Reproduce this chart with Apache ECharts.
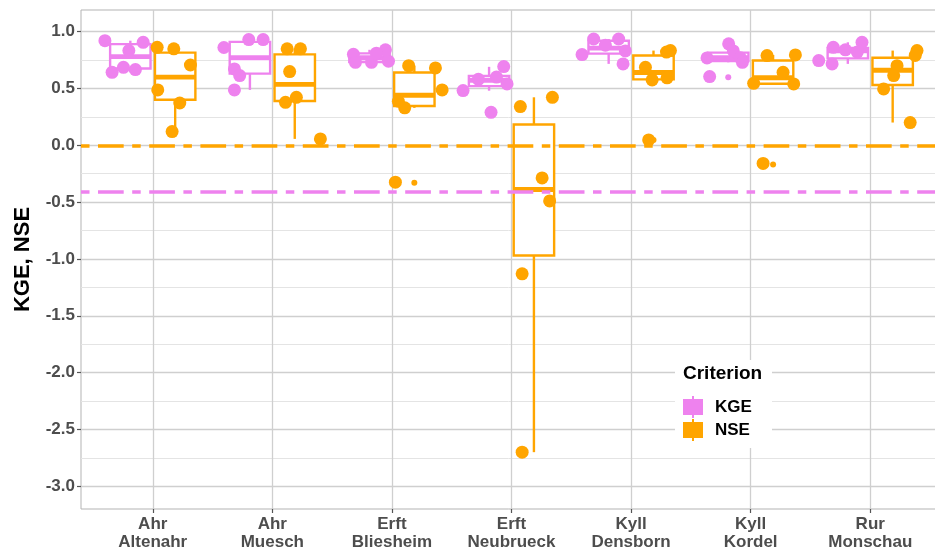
<!DOCTYPE html>
<html>
<head>
<meta charset="UTF-8">
<title>KGE, NSE</title>
<style>
html, body { margin: 0; padding: 0; background: #fff; }
#main { width: 935px; height: 557px; }
</style>
</head>
<body>
<div id="main"></div>
<script src="https://cdn.jsdelivr.net/npm/echarts@6/dist/echarts.min.js"></script>
<script>
var sites = ['Ahr\nAltenahr', 'Ahr\nMuesch', 'Erft\nBliesheim', 'Erft\nNeubrueck', 'Kyll\nDensborn', 'Kyll\nKordel', 'Rur\nMonschau'];
var yTicks = [-3, -2.5, -2, -1.5, -1, -0.5, 0, 0.5, 1];
var yMinor = [-2.75, -2.25, -1.75, -1.25, -0.75, -0.25, 0.25, 0.75];
var xTicks = [0, 1, 2, 3, 4, 5, 6];

// boxplot stats: [lower whisker, q1, median, q3, upper whisker]
var kgeBox = [
	[0.642, 0.675, 0.78, 0.89, 0.92],
	[0.487, 0.63, 0.77, 0.91, 0.93],
	[0.73, 0.733, 0.77, 0.808, 0.84],
	[0.48, 0.52, 0.57, 0.61, 0.69],
	[0.716, 0.806, 0.855, 0.92, 0.935],
	[0.73, 0.74, 0.77, 0.815, 0.892],
	[0.716, 0.764, 0.83, 0.857, 0.906]
];
var nseBox = [
	[0.12, 0.40, 0.60, 0.815, 0.862],
	[0.056, 0.39, 0.535, 0.80, 0.848],
	[0.329, 0.345, 0.44, 0.64, 0.70],
	[-2.70, -0.97, -0.389, 0.183, 0.422],
	[0.575, 0.58, 0.64, 0.79, 0.833],
	[0.54, 0.541, 0.594, 0.746, 0.795],
	[0.20, 0.53, 0.66, 0.77, 0.833]
];
// outliers: [site index, value]
var kgeOutliers = [[3, 0.29], [5, 0.598]];
var nseOutliers = [[2, -0.33], [4, 0.047], [5, -0.17]];

// single values per site and their horizontal jitter (category units)
var kgeValues = [
	[0.92, 0.906, 0.833, 0.642, 0.686, 0.666],
	[0.86, 0.93, 0.93, 0.672, 0.613, 0.487],
	[0.80, 0.73, 0.73, 0.84, 0.74, 0.81],
	[0.481, 0.29, 0.692, 0.54, 0.60, 0.58],
	[0.798, 0.935, 0.935, 0.716, 0.88, 0.83],
	[0.768, 0.892, 0.83, 0.77, 0.73, 0.604],
	[0.745, 0.716, 0.862, 0.84, 0.906, 0.82]
];
var kgeJitter = [
	[-0.40, -0.08, -0.20, -0.34, -0.245, -0.145],
	[-0.405, -0.197, -0.077, -0.317, -0.273, -0.317],
	[-0.322, -0.305, -0.171, -0.054, -0.029, -0.13],
	[-0.405, -0.171, -0.065, -0.037, -0.126, -0.277],
	[-0.41, -0.313, -0.104, -0.067, -0.215, -0.048],
	[-0.365, -0.184, -0.145, -0.086, -0.069, -0.343],
	[-0.431, -0.319, -0.309, -0.208, -0.069, -0.108]
];
var nseValues = [
	[0.862, 0.848, 0.706, 0.487, 0.372, 0.12],
	[0.848, 0.848, 0.648, 0.378, 0.422, 0.056],
	[0.70, 0.68, 0.487, 0.329, 0.387, -0.325],
	[0.34, 0.422, -0.287, -0.49, -1.131, -2.70],
	[0.833, 0.82, 0.686, 0.575, 0.593, 0.047],
	[0.789, 0.795, 0.642, 0.545, 0.54, -0.16],
	[0.496, 0.70, 0.613, 0.833, 0.79, 0.20]
];
var nseJitter = [
	[0.037, 0.176, 0.315, 0.042, 0.226, 0.162],
	[0.124, 0.235, 0.145, 0.11, 0.201, 0.402],
	[0.14, 0.364, 0.42, 0.107, 0.054, 0.029],
	[0.074, 0.342, 0.256, 0.319, 0.089, 0.089],
	[0.329, 0.296, 0.12, 0.176, 0.301, 0.147],
	[0.137, 0.374, 0.271, 0.025, 0.36, 0.104],
	[0.112, 0.224, 0.196, 0.391, 0.376, 0.334]
];
var kgeRef = -0.41;
var nseRef = 0;

var KGE_COL = '#EE82EE';
var NSE_COL = '#FFA500';
var FONT = 'Liberation Sans, Arial, sans-serif';
var dodge = 0.1875, halfBox = 0.169;

function boxData(stats) {
	return stats.map(function (s, i) { return [i].concat(s); });
}
function pointData(vals, jit) {
	var out = [];
	for (var i = 0; i < vals.length; i++) {
		for (var j = 0; j < vals[i].length; j++) {
			out.push([i + jit[i][j], vals[i][j]]);
		}
	}
	return out;
}
function outlierData(list, off) {
	return list.map(function (o) { return [o[0] + off, o[1]]; });
}
function boxRender(off, col) {
	return function (params, api) {
		var c = api.value(0) + off;
		var xl = api.coord([c - halfBox, 0])[0];
		var xr = api.coord([c + halfBox, 0])[0];
		var xm = api.coord([c, 0])[0];
		var yLo = api.coord([c, api.value(1)])[1];
		var yQ1 = api.coord([c, api.value(2)])[1];
		var yMed = api.coord([c, api.value(3)])[1];
		var yQ3 = api.coord([c, api.value(4)])[1];
		var yHi = api.coord([c, api.value(5)])[1];
		var ls = { stroke: col, lineWidth: 2.4, fill: null };
		return {
			type: 'group',
			children: [
				{ type: 'line', shape: { x1: xm, y1: yHi, x2: xm, y2: yQ3 }, style: ls },
				{ type: 'line', shape: { x1: xm, y1: yQ1, x2: xm, y2: yLo }, style: ls },
				{ type: 'rect', shape: { x: xl, y: yQ3, width: xr - xl, height: yQ1 - yQ3 },
					style: { fill: '#fff', stroke: col, lineWidth: 2.4 } },
				{ type: 'line', shape: { x1: xl, y1: yMed, x2: xr, y2: yMed },
					style: { stroke: col, lineWidth: 4.8 } }
			]
		};
	};
}

var dash = [8.5, 8.5, 25.7, 8.5];
var boxIcon = 'path://M9,0L11,0L11,3L20,3L20,19L11,19L11,22L9,22L9,19L0,19L0,3L9,3Z';

var myChart = echarts.init(document.getElementById('main'), null, { renderer: 'canvas' });
myChart.setOption({
	backgroundColor: '#fff',
	animation: false,
	textStyle: { fontFamily: FONT },
	grid: {
		left: 81, top: 10, right: -7, bottom: 48,
		show: true, borderColor: '#b3b3b3', borderWidth: 1,
		outerBoundsMode: 'none'
	},
	xAxis: {
		type: 'value', min: -0.6, max: 6.6,
		axisLine: { show: false, onZero: false },
		axisTick: { show: true, customValues: xTicks, length: 4, lineStyle: { color: '#555', width: 1.2 } },
		axisLabel: {
			customValues: xTicks, margin: 6,
			color: '#4d4d4d', fontWeight: 'bold', fontSize: 17, lineHeight: 18, fontFamily: FONT,
			formatter: function (v) { return sites[Math.round(v)]; }
		},
		splitLine: { show: true, lineStyle: { color: '#cfcfcf', width: 1.3 } }
	},
	yAxis: [{
		type: 'value', min: -3.2, max: 1.19,
		name: 'KGE, NSE', nameLocation: 'middle', nameGap: 47,
		nameTextStyle: { color: '#000', fontWeight: 'bold', fontSize: 22, fontFamily: FONT },
		axisLine: { show: false, onZero: false },
		axisTick: { show: true, customValues: yTicks, length: 4, lineStyle: { color: '#555', width: 1.2 } },
		axisLabel: {
			customValues: yTicks, margin: 6,
			color: '#4d4d4d', fontWeight: 'bold', fontSize: 17, fontFamily: FONT,
			formatter: function (v) { return v.toFixed(1); }
		},
		splitLine: { show: true, lineStyle: { color: '#cfcfcf', width: 1.3 } }
	}, {
		type: 'value', min: -3.2, max: 1.19, position: 'left',
		axisLine: { show: false, onZero: false },
		axisTick: { show: false, customValues: yMinor },
		axisLabel: { show: false },
		splitLine: { show: true, lineStyle: { color: '#e4e4e4', width: 1 } }
	}],
	legend: {
		orient: 'vertical', left: 683, top: 396, padding: 0, itemGap: 1,
		itemWidth: 20, itemHeight: 22, selectedMode: false, z: 6,
		textStyle: { color: '#000', fontWeight: 'bold', fontSize: 17, fontFamily: FONT, padding: [0, 0, 0, 7] },
		data: [
			{ name: 'KGE', icon: boxIcon, itemStyle: { color: KGE_COL } },
			{ name: 'NSE', icon: boxIcon, itemStyle: { color: NSE_COL } }
		]
	},
	graphic: [
		{ type: 'rect', left: 675, top: 360, shape: { width: 97, height: 88 }, style: { fill: '#fff' }, z: 5 },
		{ type: 'text', left: 683, top: 364, z: 6,
			style: { text: 'Criterion', fill: '#000', font: 'bold 19px ' + FONT } }
	],
	series: [
		{
			name: 'ref', type: 'line', data: [], z: 1, silent: true,
			markLine: {
				silent: true, symbol: 'none', label: { show: false },
				data: [
					{ yAxis: nseRef, lineStyle: { color: NSE_COL, width: 3.5, type: dash } },
					{ yAxis: kgeRef, lineStyle: { color: KGE_COL, width: 3.5, type: dash } }
				]
			}
		},
		{
			name: 'KGE', type: 'custom', z: 2, itemStyle: { color: KGE_COL },
			renderItem: boxRender(-dodge, KGE_COL),
			encode: { x: 0, y: [1, 2, 3, 4, 5] },
			data: boxData(kgeBox)
		},
		{
			name: 'NSE', type: 'custom', z: 2, itemStyle: { color: NSE_COL },
			renderItem: boxRender(dodge, NSE_COL),
			encode: { x: 0, y: [1, 2, 3, 4, 5] },
			data: boxData(nseBox)
		},
		{
			name: 'KGE', type: 'scatter', z: 3, symbolSize: 6, itemStyle: { color: KGE_COL, opacity: 1 },
			data: outlierData(kgeOutliers, -dodge)
		},
		{
			name: 'NSE', type: 'scatter', z: 3, symbolSize: 6, itemStyle: { color: NSE_COL, opacity: 1 },
			data: outlierData(nseOutliers, dodge)
		},
		{
			name: 'KGE', type: 'scatter', z: 4, symbolSize: 13, itemStyle: { color: KGE_COL, opacity: 1 },
			data: pointData(kgeValues, kgeJitter)
		},
		{
			name: 'NSE', type: 'scatter', z: 4, symbolSize: 13, itemStyle: { color: NSE_COL, opacity: 1 },
			data: pointData(nseValues, nseJitter)
		}
	]
});
</script>
</body>
</html>
